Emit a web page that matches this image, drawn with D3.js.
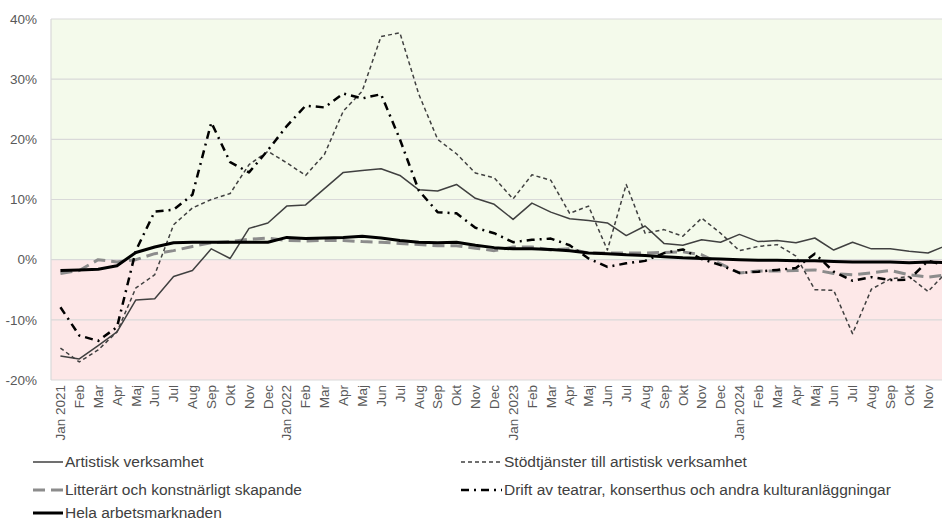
<!DOCTYPE html>
<html><head><meta charset="utf-8">
<script src="https://cdn.jsdelivr.net/npm/d3@7"></script>
<style>
html,body{margin:0;padding:0;background:#fff;overflow:hidden;}
svg{display:block;font-family:"Liberation Sans",Arial,sans-serif;}
</style></head>
<body><svg id="c" width="942" height="522"></svg>
<script>
const monthNames = ["Jan","Feb","Mar","Apr","Maj","Jun","Jul","Aug","Sep","Okt","Nov","Dec"];
const years = [2021,2022,2023,2024];
const months = [];
years.forEach(y => monthNames.forEach((m,i) => months.push(i===0 ? m+" "+y : m+" "+y+"_")));
const monthLabel = d => d.endsWith("_") ? d.split(" ")[0] : d;

const artistisk = [-16.0,-16.5,-14.3,-12.0,-6.7,-6.5,-2.8,-1.8,1.8,0.2,5.2,6.1,
  8.9,9.1,11.8,14.5,14.8,15.1,14.0,11.6,11.4,12.5,10.2,9.2,
  6.7,9.4,7.9,6.8,6.5,6.1,4.0,5.6,2.7,2.4,3.3,2.9,
  4.2,3.0,3.2,2.8,3.6,1.6,2.9,1.8,1.8,1.4,1.1,2.4];
const stodtjanster = [-14.7,-17.0,-15.0,-12.0,-4.7,-2.5,5.8,8.6,10.0,11.0,15.8,18.0,
  16.1,14.0,17.5,24.7,28.0,37.1,37.7,27.5,20.0,17.6,14.4,13.6,
  10.1,14.1,13.2,7.7,8.9,1.6,12.5,4.4,5.0,3.9,6.9,4.4,
  1.5,2.2,2.5,0.6,-5.0,-5.1,-12.3,-4.9,-3.2,-2.8,-5.3,-2.0];
const litterart = [-2.3,-1.8,0.0,-0.4,0.0,1.0,1.5,2.2,2.8,3.0,3.4,3.6,
  3.2,3.1,3.2,3.2,3.0,2.9,2.7,2.5,2.3,2.3,1.9,1.5,
  2.1,2.1,1.6,1.8,1.1,1.1,1.1,1.1,1.2,1.3,0.8,-0.7,
  -2.2,-1.9,-1.9,-1.8,-1.7,-2.3,-2.5,-2.2,-1.8,-2.5,-2.9,-2.5];
const drift = [-7.9,-12.6,-13.5,-11.2,1.5,8.0,8.3,10.8,22.8,16.2,14.5,18.2,
  22.2,25.6,25.3,27.6,26.8,27.5,20.0,11.5,7.9,7.7,5.3,4.4,
  2.9,3.3,3.5,2.4,0.2,-1.2,-0.6,-0.2,1.1,1.7,0.1,-0.9,
  -2.2,-2.0,-1.7,-1.4,1.0,-2.0,-3.5,-2.9,-3.4,-3.3,-0.2,-1.0];
const hela = [-1.8,-1.7,-1.6,-1.0,1.2,2.1,2.8,2.9,2.9,2.9,2.9,2.9,
  3.7,3.5,3.6,3.7,3.9,3.6,3.2,2.9,2.8,2.9,2.4,2.0,
  1.8,1.8,1.7,1.5,1.1,1.0,0.8,0.7,0.5,0.3,0.2,0.1,
  0.0,-0.1,-0.1,-0.2,-0.2,-0.3,-0.4,-0.4,-0.4,-0.5,-0.4,-0.5];
const yTicks = [-20,-10,0,10,20,30,40];

const series = [
  {name:"Artistisk verksamhet", values:artistisk, color:"#404040", width:1.5, dash:null},
  {name:"Stödtjänster till artistisk verksamhet", values:stodtjanster, color:"#404040", width:1.5, dash:"4,3"},
  {name:"Litterärt och konstnärligt skapande", values:litterart, color:"#8c8c8c", width:3, dash:"12,6"},
  {name:"Drift av teatrar, konserthus och andra kulturanläggningar", values:drift, color:"#000", width:2.5, dash:"8,5,2,5"},
  {name:"Hela arbetsmarknaden", values:hela, color:"#000", width:3, dash:null}
];
const drawOrder = [2,0,1,3,4];

const svg = d3.select("#c");
const pLeft = 51, pTop = 19, pBottom = 380;
const bw = 18.86;
const x = d3.scaleBand().domain(months).range([pLeft, pLeft + bw*months.length]).padding(0);
const xc = d => x(d) + x.bandwidth()/2;
const y = d3.scaleLinear().domain([-20,40]).range([pBottom, pTop]);
const pRight = pLeft + bw*months.length;

svg.append("rect").attr("x",pLeft).attr("y",y(40)).attr("width",pRight-pLeft).attr("height",y(0)-y(40)).attr("fill","#f4faeb");
svg.append("rect").attr("x",pLeft).attr("y",y(0)).attr("width",pRight-pLeft).attr("height",y(-20)-y(0)).attr("fill","#fde8e8");

svg.append("g").selectAll("line").data(yTicks).join("line")
  .attr("x1",pLeft).attr("x2",pRight).attr("y1",d=>y(d)).attr("y2",d=>y(d))
  .attr("stroke","#d9d9d9").attr("stroke-width",1.2);
svg.append("line").attr("x1",pLeft).attr("x2",pLeft).attr("y1",pTop).attr("y2",pBottom)
  .attr("stroke","#d9d9d9").attr("stroke-width",1.2);

const yAxis = d3.axisLeft(y).tickValues(yTicks).tickSize(0).tickPadding(14).tickFormat(d => d + "%");
const gy = svg.append("g").attr("transform",`translate(${pLeft},0)`).call(yAxis);
gy.select(".domain").remove();
gy.selectAll("text").attr("fill","#595959").style("font-size","13.5px").style("font-family","Liberation Sans, Arial, sans-serif");

const xAxis = d3.axisBottom(x).tickSize(0).tickPadding(0).tickFormat(monthLabel);
const gx = svg.append("g").attr("transform",`translate(0,${pBottom})`).call(xAxis);
gx.select(".domain").remove();
gx.selectAll("text")
  .attr("fill","#595959").style("font-size","13.5px").style("font-family","Liberation Sans, Arial, sans-serif")
  .attr("text-anchor","end").attr("dy","0.35em")
  .attr("transform","translate(0,5) rotate(-90)").attr("x",0).attr("y",0);

const line = d3.line().x((d,i)=>xc(months[i])).y(d=>y(d));
drawOrder.forEach(k => {
  const s = series[k];
  svg.append("path").datum(s.values).attr("d",line)
    .attr("fill","none").attr("stroke",s.color).attr("stroke-width",s.width)
    .attr("stroke-dasharray",s.dash).attr("stroke-linejoin","round");
});

const legendPos = [[33,462],[461,462],[33,490],[461,490],[33,513]];
const sampleLen = [30,41,30,41,30];
series.forEach((s,i) => {
  const [lx,ly] = legendPos[i];
  const g = svg.append("g");
  g.append("line").attr("x1",lx).attr("x2",lx+sampleLen[i]).attr("y1",ly).attr("y2",ly)
    .attr("stroke",s.color).attr("stroke-width",s.width).attr("stroke-dasharray",s.dash);
  g.append("text").attr("x",lx+sampleLen[i]+2).attr("y",ly).attr("dy","0.35em")
    .attr("fill","#404040").style("font-size","15.5px").text(s.name);
});
</script></body></html>
